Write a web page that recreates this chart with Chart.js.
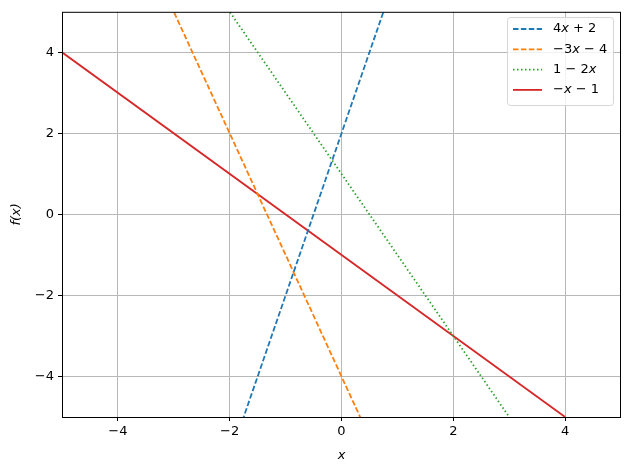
<!DOCTYPE html>
<html>
<head>
<meta charset="utf-8">
<script src="https://cdn.jsdelivr.net/npm/chart.js"></script>
<style>
  html, body { margin: 0; padding: 0; background: #fff; }
  #wrap { width: 630px; height: 470px; }
</style>
</head>
<body>
<div id="wrap"><canvas id="c" width="630" height="470"></canvas></div>
<script>
// data (straight lines, so the two end points are enough)
const xValues = [-5, 4];
const lineA = [-18, 18];   // 4x + 2
const lineB = [11, -16];   // -3x - 4
const lineC = [11, -7];    // 1 - 2x
const lineD = [4, -5];     // -x - 1
const labels = ["4x + 2", "\u22123x \u2212 4", "1 \u2212 2x", "\u2212x \u2212 1"];
const xTicks = [-4, -2, 0, 2, 4];
const yTicks = [-4, -2, 0, 2, 4];

const colors = ["#1f77b4", "#ff7f0e", "#2ca02c", "#d62728"];
const dashes = [[5.5, 2.4], [5.5, 2.4], [1.5, 2.5], []];
const FONT = "'DejaVu Sans', sans-serif";

const pts = (ys) => xValues.map((x, i) => ({ x: x, y: ys[i] }));
const series = [lineA, lineB, lineC, lineD];

const datasets = series.map((ys, i) => ({
  label: labels[i],
  data: pts(ys),
  borderColor: colors[i],
  borderWidth: 1.8,
  borderDash: dashes[i],
  showLine: true,
  pointRadius: 0,
  fill: false,
}));

// draw text where every "x" is italic (mimics mathtext)
function mathText(ctx, str, x, y) {
  const parts = str.split(/(x)/);
  let cx = x;
  parts.forEach((p) => {
    if (!p) return;
    ctx.font = (p === "x" ? "italic " : "") + "13px " + FONT;
    ctx.fillText(p, cx, y);
    cx += ctx.measureText(p).width;
  });
}

// frame + legend like matplotlib
const framePlugin = {
  id: "frame",
  afterDraw(chart) {
    const { ctx, chartArea: a } = chart;
    ctx.save();
    ctx.strokeStyle = "#000";
    ctx.lineWidth = 1;
    ctx.strokeRect(a.left + 0.5, a.top + 0.5, a.right - a.left - 1, a.bottom - a.top);

    // legend box
    const bx = 507.5, by = 17.5, bw = 106, bh = 88;
    ctx.fillStyle = "rgba(255,255,255,0.8)";
    ctx.strokeStyle = "#d6d6d6";
    ctx.beginPath();
    ctx.roundRect(bx, by, bw, bh, 3);
    ctx.fill();
    ctx.stroke();

    labels.forEach((lab, i) => {
      const ry = 29 + i * 20.3;
      ctx.strokeStyle = colors[i];
      ctx.lineWidth = 1.8;
      ctx.setLineDash(dashes[i]);
      ctx.beginPath();
      ctx.moveTo(513, ry);
      ctx.lineTo(542, ry);
      ctx.stroke();
      ctx.setLineDash([]);
      ctx.fillStyle = "#000";
      ctx.textBaseline = "middle";
      mathText(ctx, lab, 553, ry);
    });
    ctx.restore();
  },
};

const minus = (v) => String(v).replace("-", "\u2212");

new Chart(document.getElementById("c"), {
  type: "scatter",
  data: { datasets: datasets },
  plugins: [framePlugin],
  options: {
    responsive: false,
    animation: false,
    layout: { padding: { top: 9, right: 9, left: 0, bottom: 0 } },
    plugins: { legend: { display: false }, tooltip: { enabled: false } },
    scales: {
      x: {
        type: "linear",
        min: -5,
        max: 5,
        afterBuildTicks: (s) => { s.ticks = xTicks.map((v) => ({ value: v })); },
        afterFit: (s) => { s.height = 53; },
        grid: { color: "#b8b8b8", lineWidth: 1, tickColor: "#000", tickLength: 4, drawTicks: true },
        border: { display: false },
        ticks: { color: "#000", font: { family: FONT, size: 13 }, padding: 3, maxRotation: 0, callback: minus },
        title: { display: true, text: "x", color: "#000", font: { family: FONT, size: 13, style: "italic" }, padding: { top: 2, bottom: 7 } },
      },
      y: {
        type: "linear",
        min: -5,
        max: 5,
        afterBuildTicks: (s) => { s.ticks = yTicks.map((v) => ({ value: v })); },
        afterFit: (s) => { s.width = 62; },
        grid: { color: "#b8b8b8", lineWidth: 1, tickColor: "#000", tickLength: 4, drawTicks: true },
        border: { display: false },
        ticks: { color: "#000", font: { family: FONT, size: 13 }, padding: 4, callback: minus },
        title: { display: true, text: "f(x)", color: "#000", font: { family: FONT, size: 13, style: "italic" }, padding: { top: 9, bottom: 0 } },
      },
    },
  },
});
</script>
</body>
</html>
